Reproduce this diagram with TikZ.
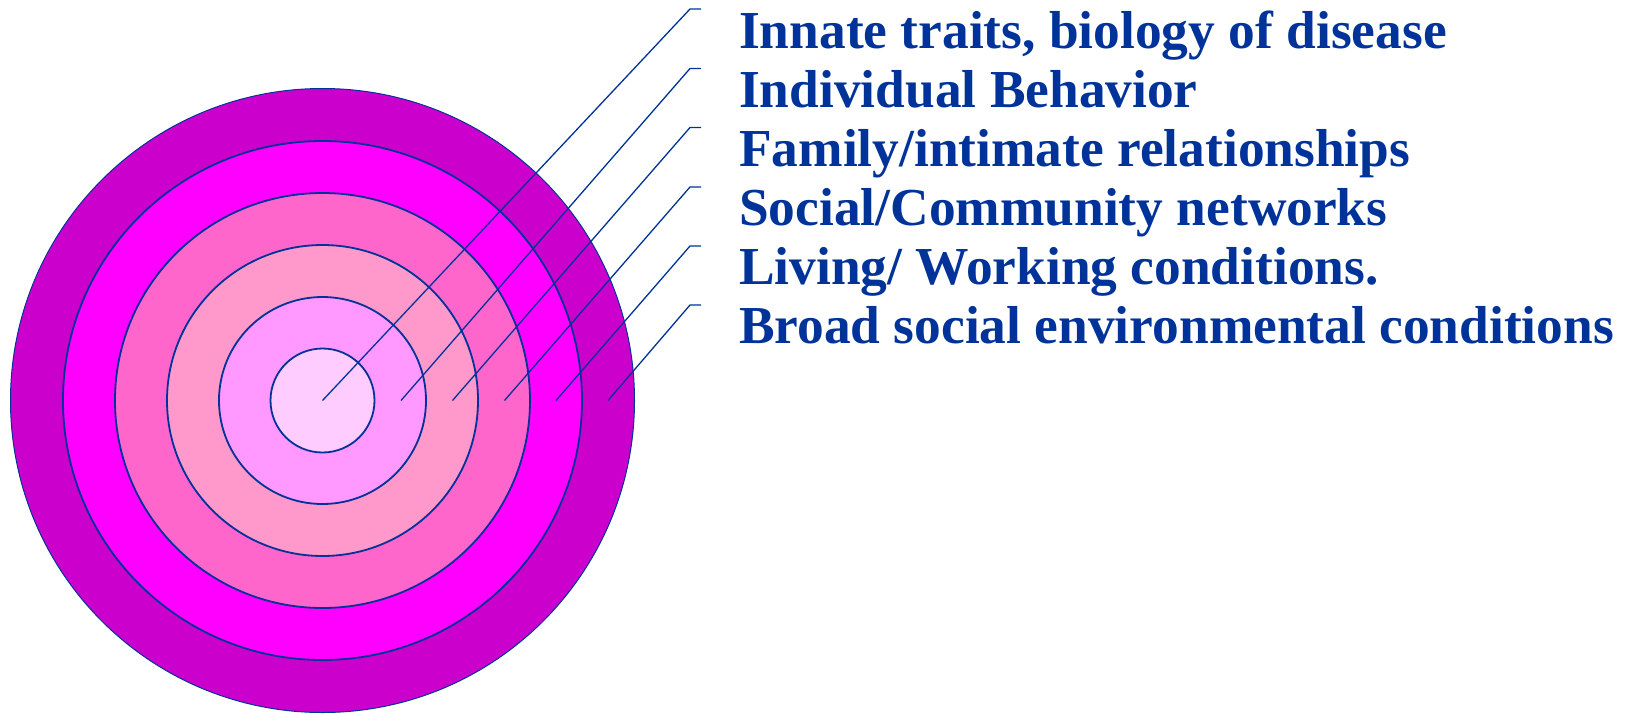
\documentclass[tikz,border=0pt]{standalone}
\usepackage{fontspec}
\setmainfont{Liberation Serif}
\definecolor{lineblue}{RGB}{0,51,153}
\definecolor{txtblue}{RGB}{0,51,153}
\definecolor{ringA}{RGB}{204,0,204}
\definecolor{ringB}{RGB}{255,0,255}
\definecolor{ringC}{RGB}{255,102,204}
\definecolor{ringD}{RGB}{255,153,204}
\definecolor{ringE}{RGB}{255,153,255}
\definecolor{ringF}{RGB}{255,204,255}
\tikzset{
  ring/.style={circle, draw=lineblue, line width=1.8pt, inner sep=0pt},
  leader/.style={draw=lineblue, line width=1.3pt},
  lbl/.style={anchor=base west, inner sep=0pt, text=txtblue, font=\fontsize{53.4}{60}\selectfont\bfseries}
}
\begin{document}
\begin{tikzpicture}[x=1pt,y=-1pt]
\useasboundingbox (0,0) rectangle (1628,713);
\coordinate (ctr) at (322.5,400.5);
\node[ring, fill=ringA, line width=1pt, minimum size=624pt] (r6) at (ctr) {};
\node[ring, fill=ringB, minimum size=519pt] (r5) at (ctr) {};
\node[ring, fill=ringC, minimum size=415pt] (r4) at (ctr) {};
\node[ring, fill=ringD, minimum size=311pt] (r3) at (ctr) {};
\node[ring, fill=ringE, minimum size=207pt] (r2) at (ctr) {};
\node[ring, fill=ringF, minimum size=104pt] (r1) at (ctr) {};
% leader start points
\coordinate (s1) at (322.5,400.5);
\coordinate (s2) at (401,400.5);
\coordinate (s3) at (452.5,400.5);
\coordinate (s4) at (504.5,400.5);
\coordinate (s5) at (556,400.5);
\coordinate (s6) at (608,400.5);
% corners and tick ends
\foreach \i/\y in {1/9,2/68.5,3/127.5,4/187,5/246,6/305}{
  \coordinate (k\i) at (690,\y);
  \coordinate (e\i) at (701,\y);
}
\foreach \i in {1,...,6}{
  \draw[leader] (s\i) -- (k\i) -- (e\i);
}
\node[lbl] (t1) at (739,48.8) {Innate traits, biology of disease};
\node[lbl] (t2) at (739,107.8) {Individual Behavior};
\node[lbl] (t3) at (739,166.8) {Family/intimate relationships};
\node[lbl] (t4) at (739,225.8) {Social/Community networks};
\node[lbl] (t5) at (739,284.8) {Living/ Working conditions.};
\node[lbl] (t6) at (739,343.8) {Broad social environmental conditions};
\end{tikzpicture}
\end{document}
